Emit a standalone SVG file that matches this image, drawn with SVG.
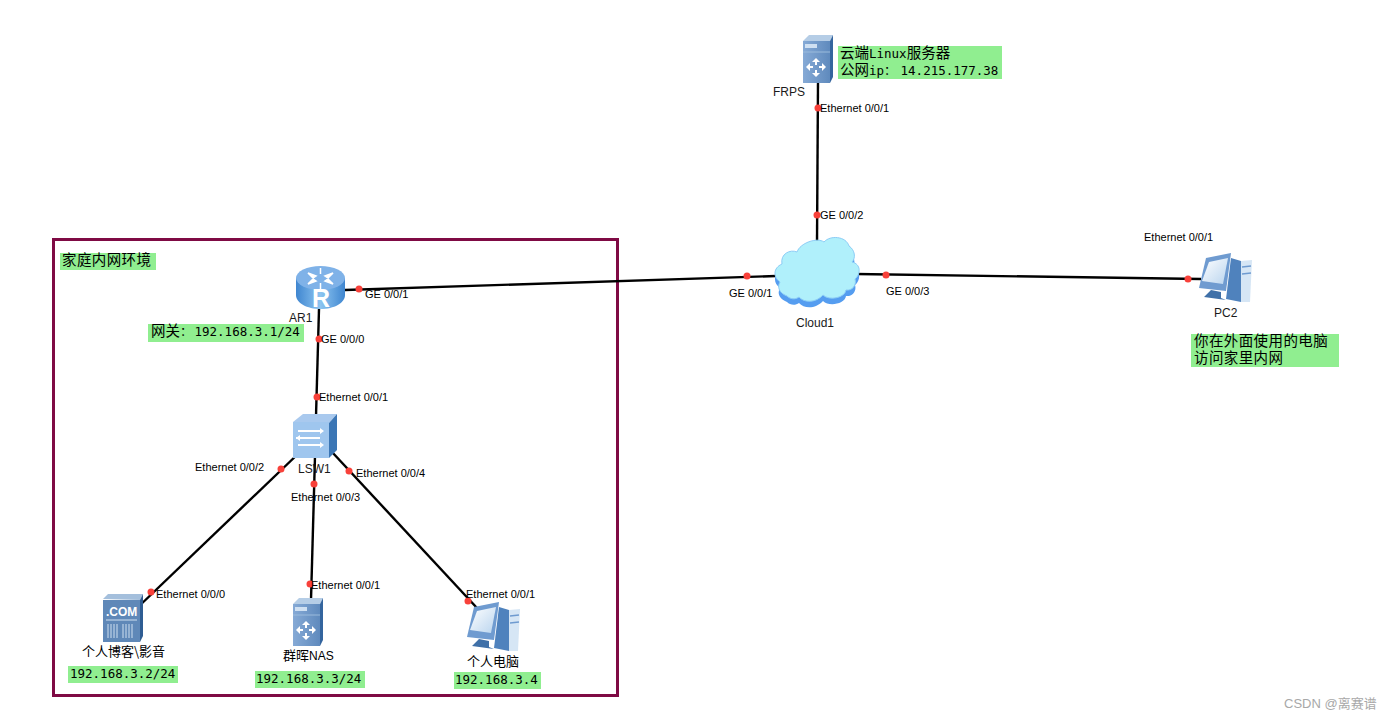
<svg xmlns="http://www.w3.org/2000/svg" width="1399" height="721" viewBox="0 0 1399 721">
<style>
.lnk{stroke:#000;stroke-width:2.4;fill:none}
.dot{fill:#f8413a}
.l{font:11px "Liberation Sans",Arial,sans-serif;fill:#000}
.n{font:12px "Liberation Sans",Arial,sans-serif;fill:#1a1a1a}
.zh{font:14.5px "Liberation Sans","Noto Sans CJK SC",sans-serif;fill:#000}
.zs{font:13px "Noto Sans CJK SC",sans-serif;fill:#000}
.m{font:12.5px "DejaVu Sans Mono","Noto Sans CJK SC",monospace;fill:#000}
.g{fill:#90ee90}
</style>
<defs>
<linearGradient id="bl" x1="0" x2="1" y1="0" y2="0"><stop offset="0" stop-color="#86aad6"/><stop offset="1" stop-color="#5f8abd"/></linearGradient>
<linearGradient id="rt" x1="0" x2="1" y1="0" y2="0"><stop offset="0" stop-color="#3f86d0"/><stop offset=".5" stop-color="#8cc4f0"/><stop offset="1" stop-color="#3f86d0"/></linearGradient>
<linearGradient id="scr" x1="0" x2="1" y1="0" y2="1"><stop offset="0" stop-color="#fff"/><stop offset="1" stop-color="#b9d4ee"/></linearGradient>
<g id="srv">
<path d="M0 6L6 0H30L27 6Z" fill="#b5cde6"/>
<path d="M27 6L30 0V42L27 48Z" fill="#34659e"/>
<rect y="6" width="27" height="42" fill="url(#bl)"/>
<rect x="2" y="9" width="12" height="4" fill="#cfe0f2"/>
<path d="M0 17H27" stroke="#9bbbdc"/>
<path d="M13 23l4 4h-3v3h-2v-3h-3zM13 42l-4-4h3v-3h2v3h3zM3 32l4-4v3h3v2h-3v3zM23 32l-4 4v-3h-3v-2h3v-3z" fill="#fff"/>
</g>
<g id="pc">
<path d="M32 5L42 8V49L27 46Z" fill="#4f82bd"/>
<path d="M42 8L53 7L51 49H42Z" fill="#d6e6f5"/>
<path d="M43 14L52 13M43 21L52 20" stroke="#6f9bd0" stroke-width="1.5"/>
<path d="M7 5L32 0L27 38L0 35Z" fill="#6f9bd0"/>
<path d="M10 9L29 5L24 31L3 28Z" fill="url(#scr)"/>
<path d="M12 37L22 39V45L27 47L5 44Z" fill="#3f70a8"/>
</g>
</defs>
<rect width="1399" height="721" fill="#fff"/>
<rect x="53.500" y="239.500" width="564" height="456" fill="none" stroke="#7f0a44" stroke-width="3"/>
<g id="connectors">
<path class="lnk" d="M818 82L817 242"/>
<path class="lnk" d="M345 290L776 276"/>
<path class="lnk" d="M856 274L1201 279"/>
<path class="lnk" d="M319 309L316 416"/>
<path class="lnk" d="M300 452L135 610"/>
<path class="lnk" d="M315 456L311 600"/>
<path class="lnk" d="M332 452L477 608"/>
</g>
<g id="FRPS">
<use href="#srv" x="803" y="35"/>
<text class="n" x="773" y="96">FRPS</text>
</g>
<g id="cloud-note">
<rect class="g" x="838" y="46" width="164" height="33"/>
<text class="zh" x="840" y="58">云端<tspan class="m">Linux</tspan>服务器</text>
<text class="zh" x="840" y="75">公网<tspan class="m">ip：<tspan dx="4">14.215.177.38</tspan></tspan></text>
</g>
<g id="Cloud1">
<path d="M787 302c-8-3-10-9-7-14c-7-5-7-14 2-18c-2-10 8-15 15-12c3-12 20-15 27-10c6-7 22-6 25 4c6 4 7 12 3 16c9 2 9 12 3 17c2 6-3 12-9 11c-1 8-17 11-23 5c-7 8-19 8-24 2c-4 3-9 2-12-1Z" fill="#559df0"/>
<path d="M787 296c-8-3-10-9-7-14c-7-5-7-14 2-18c-2-10 8-15 15-12c3-9 20-15 27-10c6-7 22-6 25 4c6 4 7 12 3 16c9 2 9 12 3 17c2 6-3 12-9 11c-1 8-17 11-23 5c-7 8-19 8-24 2c-4 3-9 2-12-1Z" fill="#b0f0fb" stroke="#8ccdf6"/>
<text class="n" x="796" y="327">Cloud1</text>
</g>
<g id="AR1">
<path d="M296 278V295C296 303 307 309 320.500 309S345 303 345 295V278Z" fill="url(#rt)"/>
<ellipse cx="320.500" cy="278" rx="24.500" ry="12" fill="#7fb2e8"/>
<path d="M308 273l8 3l-3 2zM333 273l-8 3l3 2zM308 284l8-3l-3-2zM333 284l-8-3l3-2zM320.500 268v6M320.500 283v6" stroke="#fff" stroke-width="1.500" fill="#fff"/>
<text x="312" y="307" style="font:bold 25px 'Liberation Sans',sans-serif" fill="#fff">R</text>
<text class="n" x="289" y="322">AR1</text>
</g>
<g id="gateway-note">
<rect class="g" x="148" y="324" width="156" height="18"/>
<text class="zh" x="151" y="336">网关<tspan class="m">：<tspan dx="2">192.168.3.1/24</tspan></tspan></text>
</g>
<g id="home-note">
<rect class="g" x="60" y="253" width="96" height="17"/>
<text class="zh" x="62" y="265" style="letter-spacing:.4px">家庭内网环境</text>
</g>
<g id="LSW1">
<path d="M293 422L303 414H337L329 423Z" fill="#a9c9ee"/>
<path d="M329 423L337 414V450L329 458Z" fill="#3b76b5"/>
<rect x="293" y="422" width="36" height="36" fill="#9fc6ee"/>
<path d="M298 431H322M296 438H320M298 445H322" stroke="#fff" stroke-width="2"/>
<path d="M320 428l4 3l-4 3zM300 435l-4 3l4 3zM320 442l4 3l-4 3z" fill="#fff"/>
<text class="n" x="298" y="473">LSW1</text>
</g>
<g id="blog">
<path d="M103 599L108 594H143L140 600Z" fill="#a4bfdc"/>
<path d="M140 600L143 594V636L140 642Z" fill="#2f5d93"/>
<rect x="103" y="600" width="37" height="42" fill="#5f88b8"/>
<text x="106" y="616" style="font:bold 12px 'Liberation Sans',sans-serif" fill="#fff">.COM</text>
<path d="M106 620H137M108 624v14M111 624v14M114 624v14M117 624v14M123 624v14M126 624v14M129 624v14M132 624v14" stroke="#cfdff0"/>
<text class="zs" x="82" y="656">个人博客\影音</text>
</g>
<rect class="g" x="68" y="666" width="110" height="17"/>
<text class="m" x="70" y="678">192.168.3.2/24</text>
<g id="NAS">
<use href="#srv" x="293" y="598"/>
<text class="zs" x="283" y="660">群晖<tspan font-family="Liberation Sans" font-size="12">NAS</tspan></text>
</g>
<rect class="g" x="255" y="671" width="110" height="17"/>
<text class="m" x="256" y="683">192.168.3.3/24</text>
<g id="personal-pc">
<use href="#pc" x="467" y="602"/>
<text class="zs" x="467" y="666">个人电脑</text>
</g>
<rect class="g" x="454" y="672" width="87" height="17"/>
<text class="m" x="455" y="684">192.168.3.4</text>
<g id="PC2">
<use href="#pc" x="1199" y="253"/>
<text class="n" x="1214" y="317">PC2</text>
</g>
<g id="pc2-note">
<rect class="g" x="1191" y="334" width="148" height="33"/>
<text class="zh" x="1194" y="346" style="letter-spacing:.4px">你在外面使用的电脑</text>
<text class="zh" x="1194" y="362.500" style="letter-spacing:.4px">访问家里内网</text>
</g>
<g id="ports">
<circle class="dot" cx="818" cy="108" r="3.500"/>
<circle class="dot" cx="817" cy="215" r="3.500"/>
<circle class="dot" cx="747" cy="276" r="3.500"/>
<circle class="dot" cx="886" cy="275" r="3.500"/>
<circle class="dot" cx="1188" cy="279" r="3.500"/>
<circle class="dot" cx="359" cy="289" r="3.500"/>
<circle class="dot" cx="319" cy="339" r="3.500"/>
<circle class="dot" cx="317" cy="397" r="3.500"/>
<circle class="dot" cx="281" cy="469" r="3.500"/>
<circle class="dot" cx="314" cy="484" r="3.500"/>
<circle class="dot" cx="349" cy="471" r="3.500"/>
<circle class="dot" cx="151" cy="592" r="3.500"/>
<circle class="dot" cx="310" cy="584" r="3.500"/>
<circle class="dot" cx="468" cy="601" r="3.500"/>
<text class="l" x="820" y="112">Ethernet 0/0/1</text>
<text class="l" x="820" y="219">GE 0/0/2</text>
<text class="l" x="729" y="297">GE 0/0/1</text>
<text class="l" x="886" y="295">GE 0/0/3</text>
<text class="l" x="1144" y="241">Ethernet 0/0/1</text>
<text class="l" x="365" y="298">GE 0/0/1</text>
<text class="l" x="321" y="343">GE 0/0/0</text>
<text class="l" x="319" y="401">Ethernet 0/0/1</text>
<text class="l" x="195" y="471">Ethernet 0/0/2</text>
<text class="l" x="291" y="501">Ethernet 0/0/3</text>
<text class="l" x="356" y="477">Ethernet 0/0/4</text>
<text class="l" x="156" y="598">Ethernet 0/0/0</text>
<text class="l" x="311" y="589">Ethernet 0/0/1</text>
<text class="l" x="466" y="598">Ethernet 0/0/1</text>
</g>
<text x="1284" y="708" style="font:13px 'Liberation Sans','Noto Sans CJK SC',sans-serif" fill="#a8a8a8">CSDN @离赛谱</text>
</svg>
